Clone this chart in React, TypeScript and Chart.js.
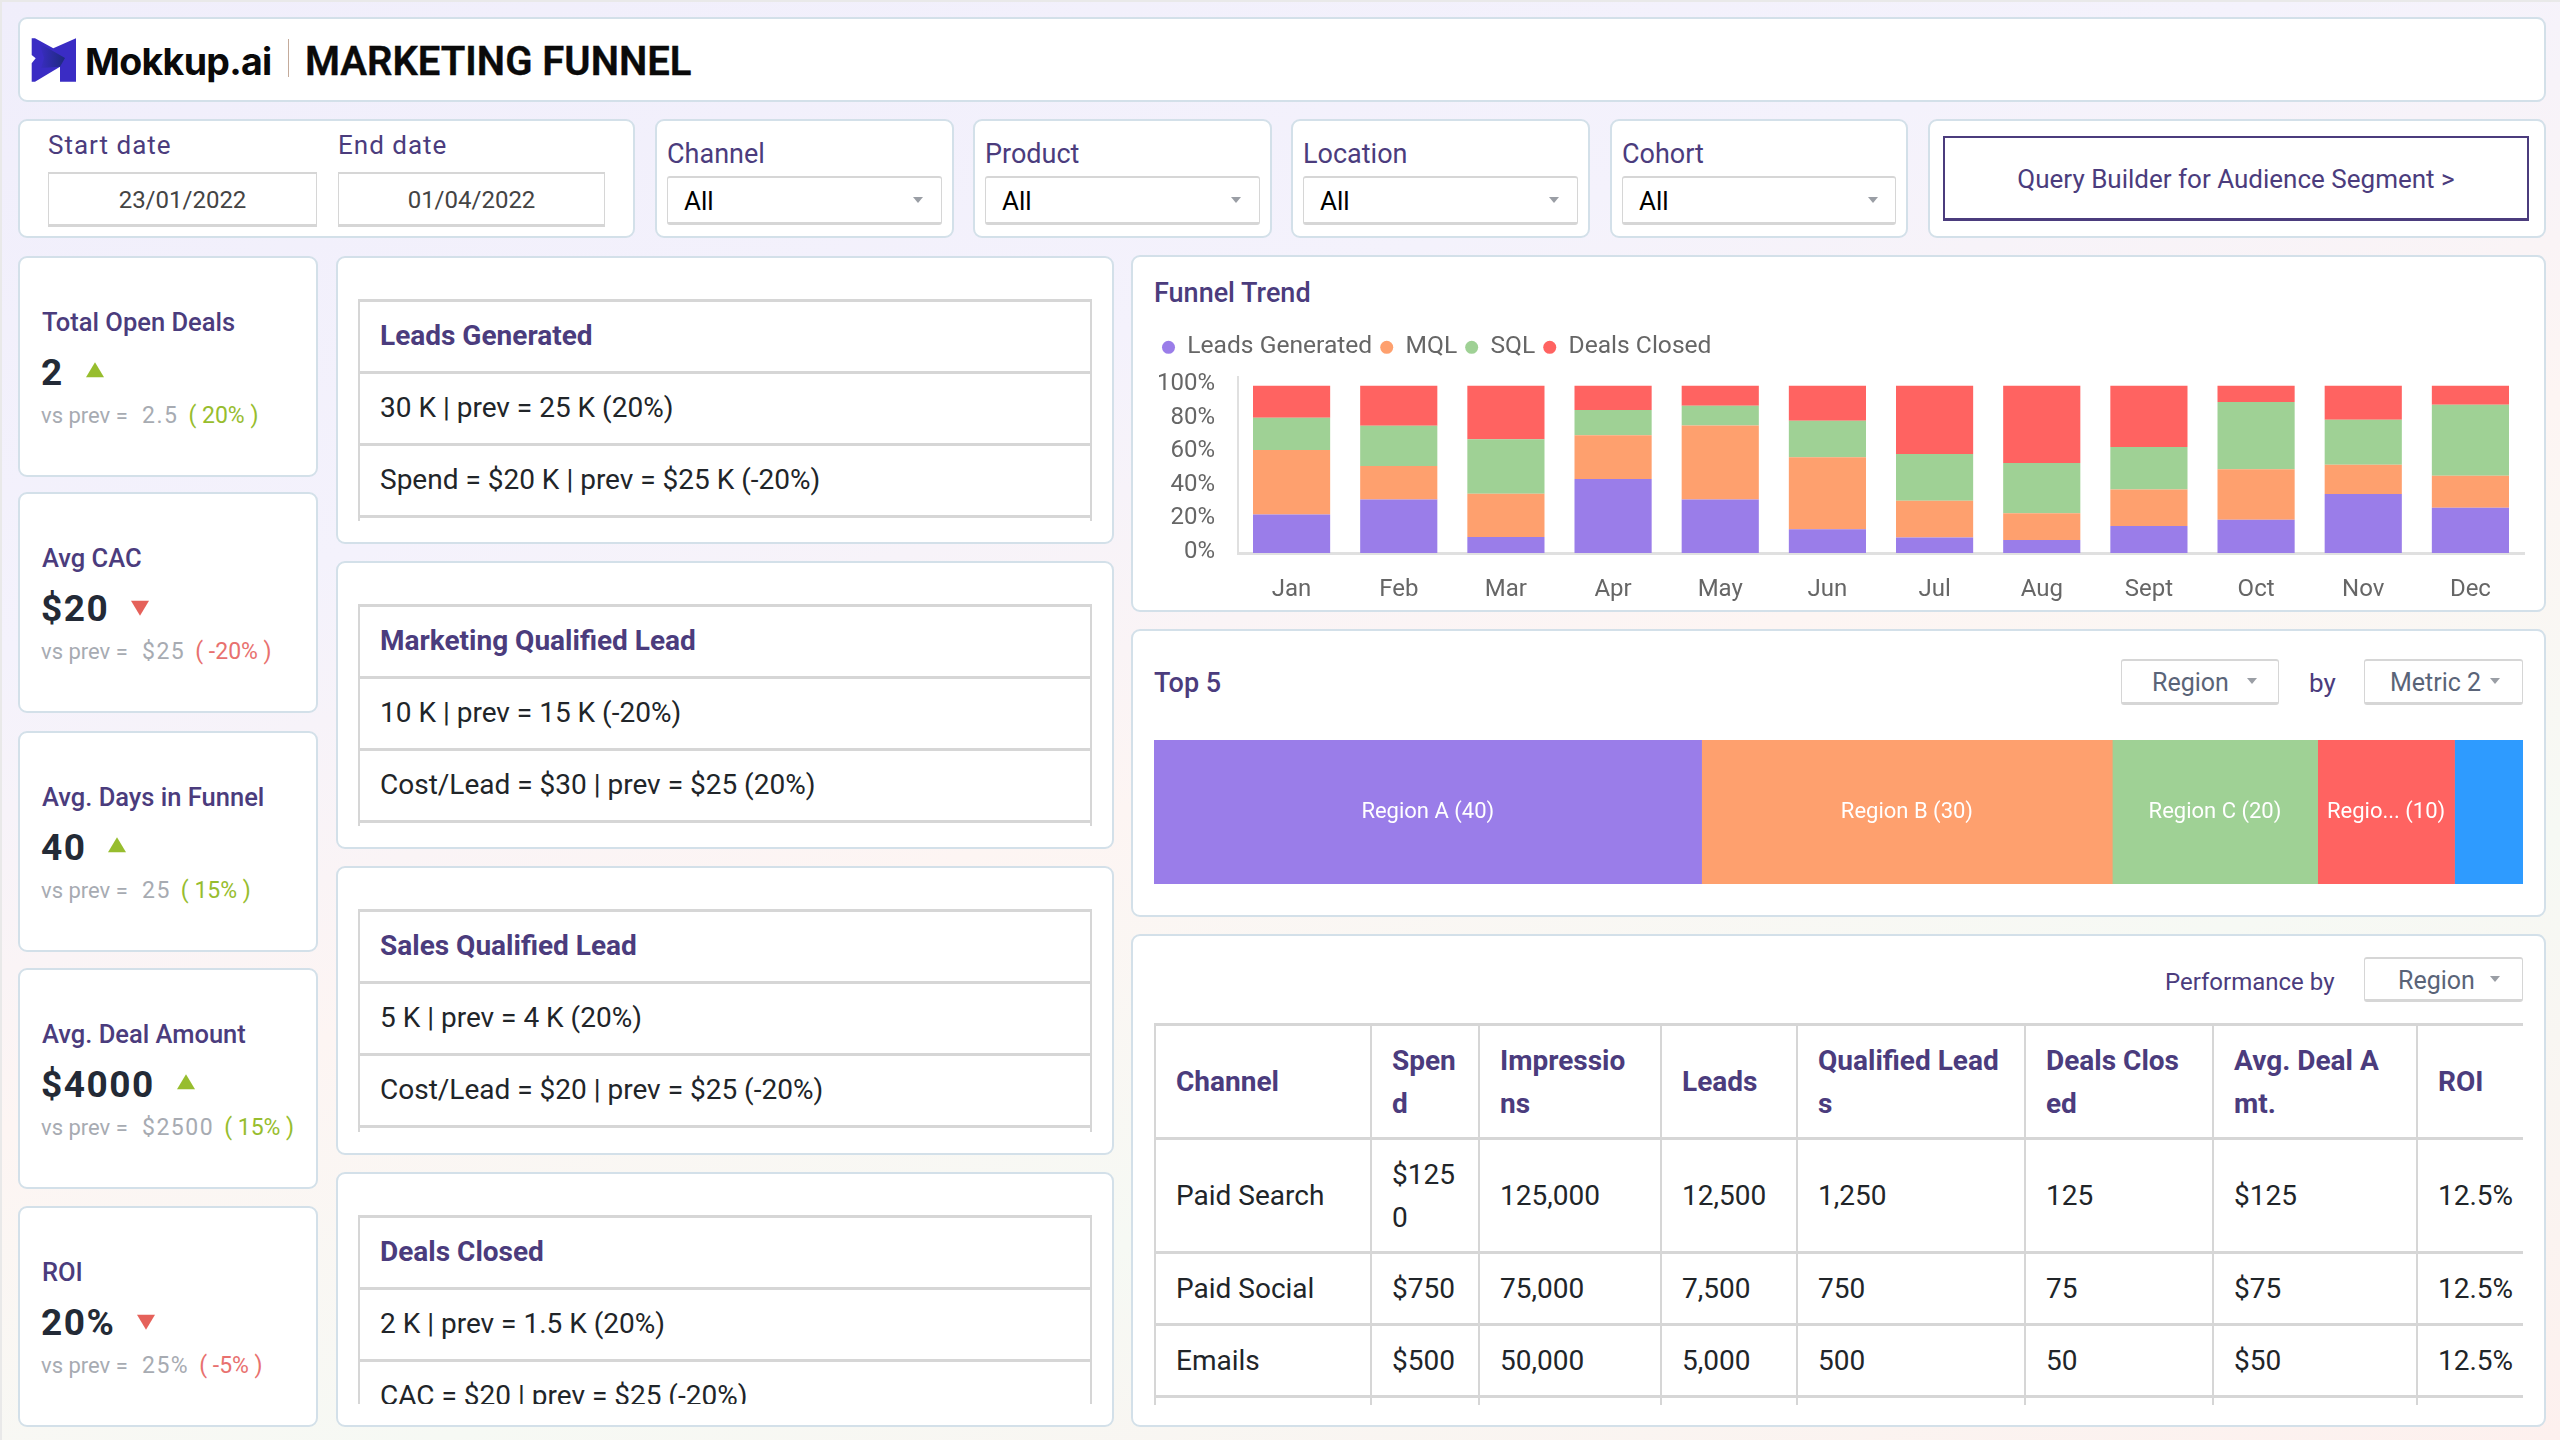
import { useEffect, useRef } from 'react';
import { Chart, registerables } from 'chart.js';

Chart.register(...registerables);

const months = ['Jan', 'Feb', 'Mar', 'Apr', 'May', 'Jun', 'Jul', 'Aug', 'Sept', 'Oct', 'Nov', 'Dec'];
const leadsGenerated = [23, 32, 9.6, 44.2, 32, 14.2, 9.2, 7.8, 16.2, 19.8, 35.2, 27];
const mql = [38.6, 20, 25.8, 26.2, 44.2, 43, 22, 16, 21.8, 30.2, 17.6, 19.2];
const sql = [19.2, 24, 32.6, 15, 11.8, 21.8, 28, 30, 25.4, 40.2, 26.8, 42.4];
const dealsClosed = [19.2, 24, 32, 14.6, 12, 21, 40.8, 46.2, 36.6, 9.8, 20.4, 11.4];

const topLabels = ['Region A (40)', 'Region B (30)', 'Region C (20)', 'Regio... (10)', ''];
const topValues = [40, 30, 15, 10, 5];

const PURPLE = '#9a7de9';
const ORANGE = '#fea06e';
const GREEN = '#9fd195';
const RED = '#ff6361';
const BLUE = '#2e9bff';
const INK = '#4b3c7d';
const LINE = '#d6d6d6';
const FONT = 'Roboto, sans-serif';

const kpis = [
    { top: 257, title: 'Total Open Deals', value: '2', up: true, prev: '2.5', delta: '20%' },
    { top: 493, title: 'Avg CAC', value: '$20', up: false, prev: '$25', delta: '-20%' },
    { top: 732, title: 'Avg. Days in Funnel', value: '40', up: true, prev: '25', delta: '15%' },
    { top: 969, title: 'Avg. Deal Amount', value: '$4000', up: true, prev: '$2500', delta: '15%' },
    { top: 1207, title: 'ROI', value: '20%', up: false, prev: '25%', delta: '-5%' },
];

const funnelTables = [
    { top: 257, height: 286, rows: ['Leads Generated', '30 K | prev = 25 K (20%)', 'Spend = $20 K | prev = $25 K (-20%)', ''] },
    { top: 562, height: 286, rows: ['Marketing Qualified Lead', '10 K | prev = 15 K (-20%)', 'Cost/Lead = $30 | prev = $25 (20%)', ''] },
    { top: 867, height: 287, rows: ['Sales Qualified Lead', '5 K | prev = 4 K (20%)', 'Cost/Lead = $20 | prev = $25 (-20%)', ''] },
    { top: 1173, height: 253, rows: ['Deals Closed', '2 K | prev = 1.5 K (20%)', 'CAC = $20 | prev = $25 (-20%)'] },
];

const filters = [
    { left: 656, width: 297, label: 'Channel' },
    { left: 974, width: 297, label: 'Product' },
    { left: 1292, width: 297, label: 'Location' },
    { left: 1611, width: 296, label: 'Cohort' },
];

const tableColumns = [216, 108, 182, 136, 228, 188, 204, 106];
const tableHead = ['Channel', 'Spend', 'Impressions', 'Leads', 'Qualified Leads', 'Deals Closed', 'Avg. Deal Amt.', 'ROI'];
const tableRows = [
    ['Paid Search', '$1250', '125,000', '12,500', '1,250', '125', '$125', '12.5%'],
    ['Paid Social', '$750', '75,000', '7,500', '750', '75', '$75', '12.5%'],
    ['Emails', '$500', '50,000', '5,000', '500', '50', '$50', '12.5%'],
    ['', '', '', '', '', '', '', ''],
];

const box = (left: number, top: number, width: number, height: number): React.CSSProperties => ({
    position: 'absolute',
    left,
    top,
    width,
    height,
    boxSizing: 'border-box',
});

const Card = ({ left, top, width, height }: any) => (
    <div style={{ ...box(left - 1, top - 1, width + 2, height + 2), background: '#fff', border: '2px solid #d3e0e9', borderRadius: 9 }} />
);

const Text = ({ left, top, size = 26, color = INK, weight = 400, spacing = 0, stroke = 0, children }: any) => (
    <div style={{ position: 'absolute', left, top, transform: 'translateY(-50%)', fontSize: size, color, fontWeight: weight, letterSpacing: spacing, whiteSpace: 'pre', lineHeight: 1.2, WebkitTextStroke: stroke ? `${stroke}px ${color}` : undefined }}>
        {children}
    </div>
);

const Caret = ({ left, top }: any) => (
    <div style={{ position: 'absolute', left, top, width: 0, height: 0, borderLeft: '5px solid transparent', borderRight: '5px solid transparent', borderTop: '6px solid #9a9ea5' }} />
);

const Dropdown = ({ left, top, width, height, label, textLeft, color = '#5a6478', size = 25, caretLeft }: any) => (
    <>
        <div style={{ ...box(left, top, width, height), background: '#fff', border: `1px solid ${LINE}`, borderTopWidth: 2, borderBottomWidth: 3, borderRadius: 3 }} />
        <Text left={textLeft} top={top + height / 2 + 1} size={size} color={color}>{label}</Text>
        <Caret left={caretLeft} top={top + height / 2 - 4} />
    </>
);

const Kpi = ({ top, title, value, up, prev, delta }: any) => {
    const accent = up ? '#97bd2e' : '#e5615a';
    const deltaColor = up ? '#97bd2e' : '#e8716f';
    return (
        <>
            <Card left={19} top={top} width={298} height={219} />
            <Text left={42} top={top + 65} size={25.5} weight={500}>{title}</Text>
            <div style={{ position: 'absolute', left: 41, top: top + 116, transform: 'translateY(-50%)', display: 'flex', alignItems: 'center', fontSize: 37, fontWeight: 700, color: '#232a36', letterSpacing: 1.5, lineHeight: 1.2 }}>
                <span>{value}</span>
                <span style={{
                    marginLeft: 22, width: 0, height: 0, transform: `translateY(${up ? -3.5 : -1}px)`,
                    borderLeft: '9.5px solid transparent', borderRight: '9.5px solid transparent',
                    ...(up ? { borderBottom: `15px solid ${accent}` } : { borderTop: `15px solid ${accent}` }),
                }} />
            </div>
            <div style={{ position: 'absolute', left: 41, top: top + 159, transform: 'translateY(-50%)', display: 'flex', alignItems: 'center', whiteSpace: 'pre', lineHeight: 1.2, color: '#a7abb2' }}>
                <span style={{ width: 101, fontSize: 22 }}>vs prev =</span>
                <span style={{ fontSize: 23, letterSpacing: 1.5 }}>{prev}</span>
                <span style={{ marginLeft: 10, fontSize: 23, color: deltaColor }}>{`( ${delta} )`}</span>
            </div>
        </>
    );
};

const FunnelTable = ({ top, height, rows }: any) => (
    <>
        <Card left={337} top={top} width={776} height={height} />
        <div style={{ ...box(358, top + 42, 734, height - 64), overflow: 'hidden', borderLeft: `2px solid ${LINE}`, borderRight: `2px solid ${LINE}` }}>
            {rows.map((row: string, i: number) => (
                <div key={i} style={{
                    height: 72, boxSizing: 'border-box', borderTop: `3px solid ${LINE}`, paddingLeft: 20, paddingBottom: 3,
                    display: 'flex', alignItems: 'center', fontSize: 28,
                    color: i === 0 ? INK : '#212529', fontWeight: i === 0 ? 700 : 400,
                }}>{row}</div>
            ))}
        </div>
    </>
);

const FunnelTrend = () => {
    const canvasRef = useRef<HTMLCanvasElement | null>(null);

    useEffect(() => {
        if (!canvasRef.current) return;
        const chart = new Chart(canvasRef.current, {
            type: 'bar',
            data: {
                labels: months,
                datasets: [
                    { label: 'Leads Generated', data: leadsGenerated, backgroundColor: PURPLE },
                    { label: 'MQL', data: mql, backgroundColor: ORANGE },
                    { label: 'SQL', data: sql, backgroundColor: GREEN },
                    { label: 'Deals Closed', data: dealsClosed, backgroundColor: RED },
                ],
            },
            options: {
                animation: false,
                responsive: false,
                maintainAspectRatio: false,
                layout: { padding: { top: 12, right: 16, bottom: 0, left: 0 } },
                datasets: { bar: { barPercentage: 0.72, categoryPercentage: 1 } },
                plugins: {
                    tooltip: { enabled: false },
                    legend: {
                        position: 'top',
                        align: 'start',
                        labels: {
                            usePointStyle: true,
                            pointStyle: 'circle',
                            boxWidth: 13,
                            boxHeight: 9.2,
                            padding: 8,
                            color: '#666666',
                            font: { family: FONT, size: 24.6 },
                        },
                    },
                },
                scales: {
                    x: {
                        stacked: true,
                        afterFit: (scale: any) => { scale.height = 57; },
                        grid: { display: false },
                        border: { color: '#e0e0e0', width: 3 },
                        ticks: { color: '#666666', padding: 15, font: { family: FONT, size: 24 }, maxRotation: 0, autoSkip: false },
                    },
                    y: {
                        stacked: true,
                        min: 0,
                        max: 105.4,
                        afterFit: (scale: any) => { scale.width = 84; },
                        grid: { display: false },
                        border: { color: '#e0e0e0', width: 2 },
                        ticks: {
                            stepSize: 20,
                            includeBounds: false,
                            color: '#666666',
                            padding: 15,
                            labelOffset: -1.5,
                            font: { family: FONT, size: 24 },
                            callback: (v: any) => `${v}%`,
                        },
                    },
                },
            },
            plugins: [{
                id: 'legendGap',
                beforeInit(c: any) {
                    const fit = c.legend.fit;
                    c.legend.fit = function () {
                        fit.call(this);
                        this.height += 7;
                    };
                },
            }],
        } as any);
        return () => chart.destroy();
    }, []);

    return <canvas ref={canvasRef} width={1386} height={295} style={{ position: 'absolute', left: 1154, top: 315, width: 1386, height: 295 }} />;
};

const TopFive = () => {
    const canvasRef = useRef<HTMLCanvasElement | null>(null);

    useEffect(() => {
        if (!canvasRef.current) return;
        const colors = [PURPLE, ORANGE, GREEN, RED, BLUE];
        const chart = new Chart(canvasRef.current, {
            type: 'bar',
            data: {
                labels: ['Top 5'],
                datasets: topValues.map((v, i) => ({
                    label: topLabels[i],
                    data: [v],
                    backgroundColor: colors[i],
                    barPercentage: 1,
                    categoryPercentage: 1,
                })),
            },
            options: {
                animation: false,
                responsive: false,
                maintainAspectRatio: false,
                indexAxis: 'y',
                layout: { padding: 0 },
                plugins: { legend: { display: false }, tooltip: { enabled: false } },
                scales: {
                    x: { stacked: true, display: false, min: 0, max: 100 },
                    y: { stacked: true, display: false },
                },
            },
            plugins: [{
                id: 'segmentLabels',
                afterDatasetsDraw(c: any) {
                    const ctx = c.ctx;
                    ctx.save();
                    ctx.fillStyle = '#fff';
                    ctx.font = `22px ${FONT}`;
                    ctx.textAlign = 'center';
                    ctx.textBaseline = 'middle';
                    c.data.datasets.forEach((ds: any, i: number) => {
                        const bar = c.getDatasetMeta(i).data[0];
                        ctx.fillText(ds.label, (bar.x + bar.base) / 2, bar.y);
                    });
                    ctx.restore();
                },
            }],
        } as any);
        return () => chart.destroy();
    }, []);

    return <canvas ref={canvasRef} width={1369} height={144} style={{ position: 'absolute', left: 1154, top: 740, width: 1369, height: 144 }} />;
};

const PerformanceTable = () => (
    <div style={{ ...box(1154, 1023, 1369, 382), overflow: 'hidden' }}>
        <table style={{ borderCollapse: 'collapse', tableLayout: 'fixed', width: 1368, fontSize: 28, color: '#212529' }}>
            <colgroup>
                {tableColumns.map((w, i) => <col key={i} style={{ width: w }} />)}
            </colgroup>
            <thead>
                <tr style={{ height: 114 }}>
                    {tableHead.map((h, i) => (
                        <th key={i} style={{
                            textAlign: 'left', padding: '0 21px 0 20px', color: INK, fontWeight: 700, lineHeight: '43px', wordBreak: 'break-all',
                            borderTop: `3px solid ${LINE}`, borderBottom: `3px solid ${LINE}`,
                            borderLeft: `2px solid ${LINE}`,
                        }}>{h}</th>
                    ))}
                </tr>
            </thead>
            <tbody>
                {tableRows.map((row, r) => (
                    <tr key={r} style={{ height: r === 0 ? 114 : 72 }}>
                        {row.map((cell, i) => (
                            <td key={i} style={{
                                padding: i === 7 ? '0 0 0 20px' : '0 21px 0 20px', lineHeight: '43px', wordBreak: i === 7 ? 'normal' : 'break-all',
                                whiteSpace: i === 7 ? 'nowrap' : 'normal',
                                borderBottom: `3px solid ${LINE}`, borderLeft: `2px solid ${LINE}`,
                            }}>{cell}</td>
                        ))}
                    </tr>
                ))}
            </tbody>
        </table>
    </div>
);

const App = () => (
    <div style={{
        position: 'fixed', left: 0, top: 0, width: 2560, height: 1440, overflow: 'hidden', fontFamily: FONT,
        background: 'linear-gradient(164deg, #f0eefb 0%, #f4f2fc 30%, #fdf5f3 52%, #f6f9f4 72%, #fdf0ee 100%)',
        borderTop: '2px solid #e9e9e9', borderLeft: '2px solid #e9e9e9', boxSizing: 'border-box',
    }}>
        <div style={{ position: 'absolute', left: -2, top: -2, width: 2560, height: 1440 }}>
            <Card left={19} top={18} width={2526} height={83} />
            <svg style={{ position: 'absolute', left: 31, top: 38 }} width={46} height={45} viewBox="0 0 46 45">
                <defs>
                    <linearGradient id="logoFold" x1="0" x2="1" y1="0" y2="0">
                        <stop offset="0" stopColor="#3a2cc4" />
                        <stop offset="1" stopColor="#1d2a7c" />
                    </linearGradient>
                </defs>
                <polygon points="0.7,0.3 4,0.3 22.3,10.3 45,0.3 45,43.7 29,43.7 29,28.7 4,43.7 0.7,43.7 0.7,25.3 4.7,20.3 0.7,17" fill="#3a2cc4" />
                <polygon points="8,5 34,20 29,28.7 10,30 13,20" fill="url(#logoFold)" />
            </svg>
            <div style={{ position: 'absolute', left: 85, top: 61, transform: 'translateY(-50%)', fontFamily: 'Inter, sans-serif', fontSize: 37.5, fontWeight: 700, letterSpacing: -0.7, color: '#0a0a0a', lineHeight: 1.2 }}>Mokkup.ai</div>
            <div style={{ ...box(288, 39, 1, 38), background: '#c4ab9b' }} />
            <Text left={305} top={62} size={40} weight={600} color="#0a0a0a" stroke={0.4}>MARKETING FUNNEL</Text>

            <Card left={19} top={120} width={615} height={117} />
            <Text left={48} top={146} size={26} spacing={1}>Start date</Text>
            <Text left={338} top={146} size={26} spacing={1}>End date</Text>
            {[48, 338].map((left, i) => (
                <div key={left} style={{
                    ...box(left, 172, i === 0 ? 269 : 267, 55), background: '#fff', border: `1px solid ${LINE}`, borderTopWidth: 2, borderBottomWidth: 3,
                    display: 'flex', alignItems: 'center', justifyContent: 'center', fontSize: 24, color: '#444', paddingTop: 2,
                }}>{i === 0 ? '23/01/2022' : '01/04/2022'}</div>
            ))}
            {filters.map((f) => (
                <div key={f.label}>
                    <Card left={f.left} top={120} width={f.width} height={117} />
                    <Text left={f.left + 11} top={154} size={27}>{f.label}</Text>
                    <Dropdown left={f.left + 11} top={176} width={f.width - 22} height={49} label="All" textLeft={f.left + 28} color="#000" size={26} caretLeft={f.left + 257} />
                </div>
            ))}
            <Card left={1929} top={120} width={616} height={117} />
            <div style={{
                ...box(1943, 136, 586, 85), border: `2px solid ${INK}`, borderBottomWidth: 3, display: 'flex', alignItems: 'center', justifyContent: 'center',
                fontSize: 26, color: INK, paddingTop: 2,
            }}>Query Builder for Audience Segment &gt;</div>

            {kpis.map((k) => <Kpi key={k.title} {...k} />)}
            {funnelTables.map((t) => <FunnelTable key={t.top} {...t} />)}

            <Card left={1132} top={256} width={1413} height={355} />
            <Text left={1154} top={293} size={27} weight={500}>Funnel Trend</Text>
            <FunnelTrend />

            <Card left={1132} top={630} width={1413} height={286} />
            <Text left={1154} top={683} size={27} weight={500}>Top 5</Text>
            <Dropdown left={2121} top={659} width={158} height={46} label="Region" textLeft={2152} caretLeft={2247} />
            <Text left={2309} top={684} size={26}>by</Text>
            <Dropdown left={2364} top={659} width={159} height={46} label="Metric 2" textLeft={2390} caretLeft={2490} />
            <TopFive />

            <Card left={1132} top={935} width={1413} height={491} />
            <Text left={2165} top={982} size={24}>Performance by</Text>
            <Dropdown left={2364} top={957} width={159} height={45} label="Region" textLeft={2398} caretLeft={2490} />
            <PerformanceTable />
        </div>
    </div>
);

export default App;
